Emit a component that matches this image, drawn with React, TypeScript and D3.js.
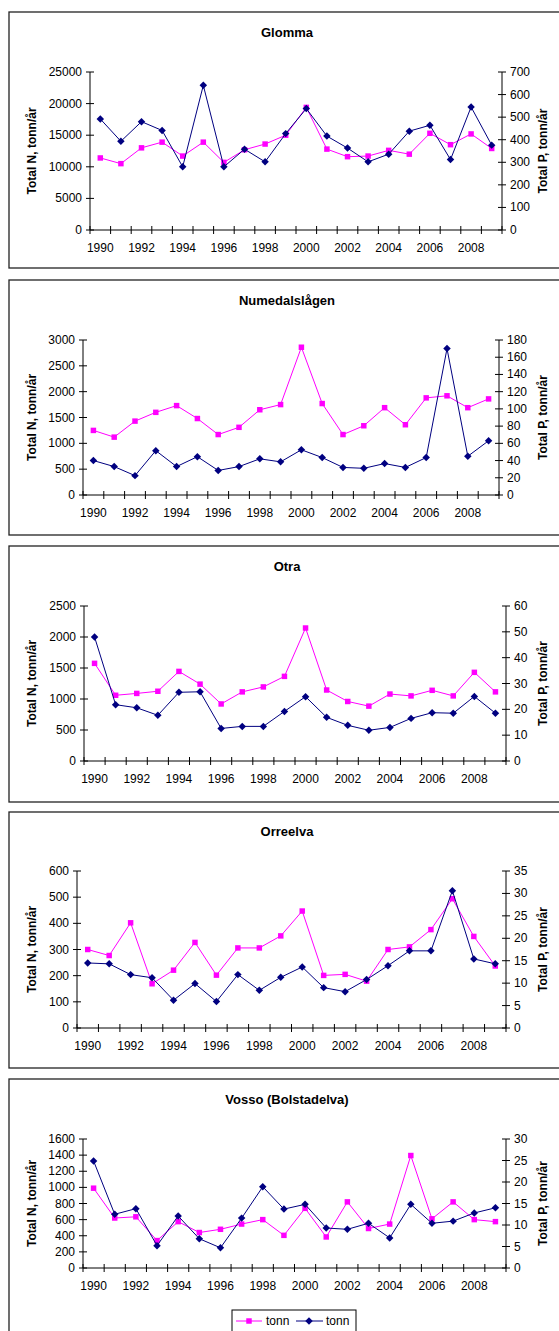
import React from "react";
import * as d3 from "d3";

// kategorier (år)
const years = [
  "1990", "1991", "1992", "1993", "1994", "1995", "1996", "1997", "1998", "1999",
  "2000", "2001", "2002", "2003", "2004", "2005", "2006", "2007", "2008", "2009",
];
const labeledYears = ["1990", "1992", "1994", "1996", "1998", "2000", "2002", "2004", "2006", "2008"];

// Glomma
const glommaN = [11400, 10500, 13000, 13900, 11700, 13900, 10700, 12700, 13600, 15000, 19400, 12800, 11600, 11700, 12600, 12000, 15300, 13500, 15200, 12900];
const glommaP = [492, 393, 480, 441, 280, 641, 280, 358, 302, 427, 538, 416, 363, 302, 336, 438, 464, 312, 545, 376];
const glommaNTicks = [0, 5000, 10000, 15000, 20000, 25000];
const glommaPTicks = [0, 100, 200, 300, 400, 500, 600, 700];

// Numedalslågen
const numedalN = [1250, 1120, 1430, 1600, 1730, 1480, 1170, 1310, 1650, 1750, 2860, 1770, 1170, 1340, 1690, 1360, 1880, 1920, 1690, 1860];
const numedalP = [40, 33, 22.5, 51.5, 33, 44.5, 28.5, 33, 42, 38.5, 52.5, 43.5, 32, 31, 36.5, 32, 43.5, 170, 45, 63];
const numedalNTicks = [0, 500, 1000, 1500, 2000, 2500, 3000];
const numedalPTicks = [0, 20, 40, 60, 80, 100, 120, 140, 160, 180];

// Otra
const otraN = [1575, 1060, 1090, 1125, 1445, 1240, 920, 1115, 1195, 1365, 2145, 1145, 960, 885, 1080, 1050, 1140, 1050, 1430, 1115];
const otraP = [48, 21.8, 20.6, 17.7, 26.6, 26.8, 12.6, 13.4, 13.4, 19.2, 24.9, 16.9, 13.8, 11.9, 13, 16.5, 18.7, 18.5, 25, 18.5];
const otraNTicks = [0, 500, 1000, 1500, 2000, 2500];
const otraPTicks = [0, 10, 20, 30, 40, 50, 60];

// Orreelva
const orreN = [300, 277, 402, 169, 221, 327, 202, 306, 306, 352, 447, 201, 205, 179, 300, 310, 376, 494, 350, 237];
const orreP = [14.5, 14.3, 11.9, 11.2, 6.2, 9.9, 5.9, 11.9, 8.4, 11.3, 13.6, 9.0, 8.1, 10.8, 13.9, 17.2, 17.2, 30.6, 15.4, 14.3];
const orreNTicks = [0, 100, 200, 300, 400, 500, 600];
const orrePTicks = [0, 5, 10, 15, 20, 25, 30, 35];

// Vosso (Bolstadelva)
const vossoN = [990, 620, 635, 340, 575, 440, 480, 545, 600, 405, 740, 385, 820, 490, 545, 1395, 610, 820, 600, 575];
const vossoP = [24.9, 12.5, 13.8, 5.2, 12.1, 6.8, 4.7, 11.6, 18.9, 13.7, 14.8, 9.3, 9.0, 10.4, 7.0, 14.8, 10.4, 10.9, 12.8, 14.0];
const vossoNTicks = [0, 200, 400, 600, 800, 1000, 1200, 1400, 1600];
const vossoPTicks = [0, 5, 10, 15, 20, 25, 30];

const seriesNames = ["tonn", "tonn"];

const PINK = "#ff00ff";
const NAVY = "#000080";
const FONT = "'Liberation Sans', Arial, sans-serif";

const panels = [
  { title: "Glomma", n: glommaN, p: glommaP, nTicks: glommaNTicks, pTicks: glommaPTicks },
  { title: "Numedalslågen", n: numedalN, p: numedalP, nTicks: numedalNTicks, pTicks: numedalPTicks },
  { title: "Otra", n: otraN, p: otraP, nTicks: otraNTicks, pTicks: otraPTicks },
  { title: "Orreelva", n: orreN, p: orreP, nTicks: orreNTicks, pTicks: orrePTicks },
  { title: "Vosso (Bolstadelva)", n: vossoN, p: vossoP, nTicks: vossoNTicks, pTicks: vossoPTicks },
];

// ramme + plotområde for hvert panel
const layout = [
  { boxTop: 12, boxBottom: 268, left: 90, right: 502, top: 72, bottom: 230 },
  { boxTop: 280, boxBottom: 535, left: 83, right: 499, top: 340, bottom: 495 },
  { boxTop: 546, boxBottom: 802, left: 84, right: 506, top: 606, bottom: 761 },
  { boxTop: 812, boxBottom: 1068, left: 77, right: 506, top: 871, bottom: 1028 },
  { boxTop: 1079, boxBottom: 1345, left: 83, right: 506, top: 1139, bottom: 1268 },
];

const square = d3.symbol(d3.symbolSquare, 30)();
const diamond = d3.symbol(d3.symbolSquare, 28)();

const Panel = ({ cfg, lay }: any) => {
  const x = d3.scaleBand<string>().domain(years).range([lay.left, lay.right]);
  const yN = d3.scaleLinear().domain([0, d3.max(cfg.nTicks) as number]).range([lay.bottom, lay.top]);
  const yP = d3.scaleLinear().domain([0, d3.max(cfg.pTicks) as number]).range([lay.bottom, lay.top]);
  const cx = (i: number) => (x(years[i]) as number) + x.bandwidth() / 2;

  const lineN = d3.line<number>().x((d, i) => cx(i)).y((d) => yN(d));
  const lineP = d3.line<number>().x((d, i) => cx(i)).y((d) => yP(d));
  const midY = (lay.top + lay.bottom) / 2;
  const tickX = [...years.map((yr) => x(yr) as number), lay.right];

  return (
    <g>
      <rect x={9} y={lay.boxTop} width={560} height={lay.boxBottom - lay.boxTop} fill="#fff" stroke="#222" strokeWidth={1.3} />
      <text x={287} y={lay.top - 40} textAnchor="middle" dominantBaseline="central" fontSize={13} fontWeight="bold">
        {cfg.title}
      </text>

      {/* venstre akse */}
      <line x1={lay.left} x2={lay.left} y1={lay.top} y2={lay.bottom} stroke="#000" />
      {cfg.nTicks.map((t: number) => (
        <g key={"n" + t}>
          <line x1={lay.left - 4} x2={lay.left + 4} y1={yN(t)} y2={yN(t)} stroke="#000" />
          <text x={lay.left - 8} y={yN(t)} textAnchor="end" dominantBaseline="central" fontSize={12}>
            {t}
          </text>
        </g>
      ))}
      <text transform={`translate(32,${midY}) rotate(-90)`} textAnchor="middle" dominantBaseline="central" fontSize={12} fontWeight="bold">
        Total N, tonn/år
      </text>

      {/* høyre akse */}
      <line x1={lay.right} x2={lay.right} y1={lay.top} y2={lay.bottom} stroke="#000" />
      {cfg.pTicks.map((t: number) => (
        <g key={"p" + t}>
          <line x1={lay.right - 4} x2={lay.right + 4} y1={yP(t)} y2={yP(t)} stroke="#000" />
          <text x={lay.right + 8} y={yP(t)} textAnchor="start" dominantBaseline="central" fontSize={12}>
            {t}
          </text>
        </g>
      ))}
      <text transform={`translate(543,${midY}) rotate(-90)`} textAnchor="middle" dominantBaseline="central" fontSize={12} fontWeight="bold">
        Total P, tonn/år
      </text>

      {/* x-akse */}
      <line x1={lay.left} x2={lay.right} y1={lay.bottom} y2={lay.bottom} stroke="#000" />
      {tickX.map((tx, i) => (
        <line key={"t" + i} x1={tx} x2={tx} y1={lay.bottom - 4} y2={lay.bottom + 4} stroke="#000" />
      ))}
      {labeledYears.map((yr) => (
        <text key={yr} x={(x(yr) as number) + x.bandwidth() / 2} y={lay.bottom + 18} textAnchor="middle" dominantBaseline="central" fontSize={12}>
          {yr}
        </text>
      ))}

      {/* serier */}
      <path d={lineN(cfg.n) as string} fill="none" stroke={PINK} strokeWidth={1} />
      {cfg.n.map((v: number, i: number) => (
        <path key={"sn" + i} d={square as string} transform={`translate(${cx(i)},${yN(v)})`} fill={PINK} />
      ))}
      <path d={lineP(cfg.p) as string} fill="none" stroke={NAVY} strokeWidth={1} />
      {cfg.p.map((v: number, i: number) => (
        <path key={"sp" + i} d={diamond as string} transform={`translate(${cx(i)},${yP(v)}) rotate(45)`} fill={NAVY} />
      ))}
    </g>
  );
};

export default function App() {
  return (
    <svg
      width={559}
      height={1331}
      style={{ position: "absolute", left: 0, top: 0, background: "#fff", fontFamily: FONT }}
    >
      <rect x={0} y={0} width={559} height={1331} fill="#fff" />
      {panels.map((cfg, i) => (
        <Panel key={cfg.title} cfg={cfg} lay={layout[i]} />
      ))}

      {/* forklaring */}
      <g>
        <rect x={232} y={1310} width={124} height={30} fill="#fff" stroke="#000" strokeWidth={1} />
        <line x1={236} x2={262} y1={1321} y2={1321} stroke={PINK} />
        <path d={square as string} transform="translate(249,1321)" fill={PINK} />
        <text x={266} y={1321} dominantBaseline="central" fontSize={12}>
          {seriesNames[0]}
        </text>
        <line x1={296} x2={323} y1={1321} y2={1321} stroke={NAVY} />
        <path d={diamond as string} transform="translate(309,1321) rotate(45)" fill={NAVY} />
        <text x={326} y={1321} dominantBaseline="central" fontSize={12}>
          {seriesNames[1]}
        </text>
      </g>
    </svg>
  );
}
